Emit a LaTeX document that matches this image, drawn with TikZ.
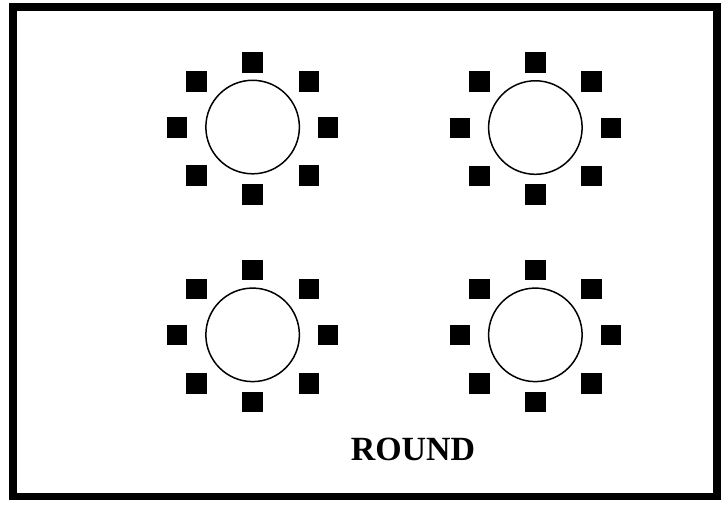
\documentclass[tikz,border=0pt]{standalone}
\usepackage{fontspec}
\setmainfont{Liberation Serif}
\usetikzlibrary{calc}

\begin{document}
\begin{tikzpicture}[x=0.03cm, y=-0.03cm]
  \tikzset{
    roundtable/.style={draw, circle, line width=1.3pt, minimum size=2.86cm, inner sep=0pt},
    chair/.style={fill=black, minimum size=0.63cm, inner sep=0pt}
  }
  \useasboundingbox (0,0) rectangle (739,518);

  % Room frame
  \draw[line width=0.24cm] (13,7) rectangle (731,506);

  % Round tables with eight chairs each
  \foreach \name/\cx/\cy in {tA/257.5/129.5, tB/545.7/130, tC/257.5/341.3, tD/545.7/341.3} {
    \node[roundtable] (\name) at (\cx,\cy) {};
    \foreach \i/\dx/\dy in {1/0/-66, 2/57.5/-46.7, 3/77/0.3, 4/57.5/49.3, 5/0/68.5, 6/-57.2/49.3, 7/-77/0.3, 8/-57.2/-46.7}
      \node[chair] (\name-c\i) at ($(\name)+(\dx,\dy)$) {};
  }

  % Caption
  \node[font=\bfseries\fontsize{29.5}{33}\selectfont, inner sep=0pt] (caption) at (421,458.5) {ROUND};
\end{tikzpicture}
\end{document}
